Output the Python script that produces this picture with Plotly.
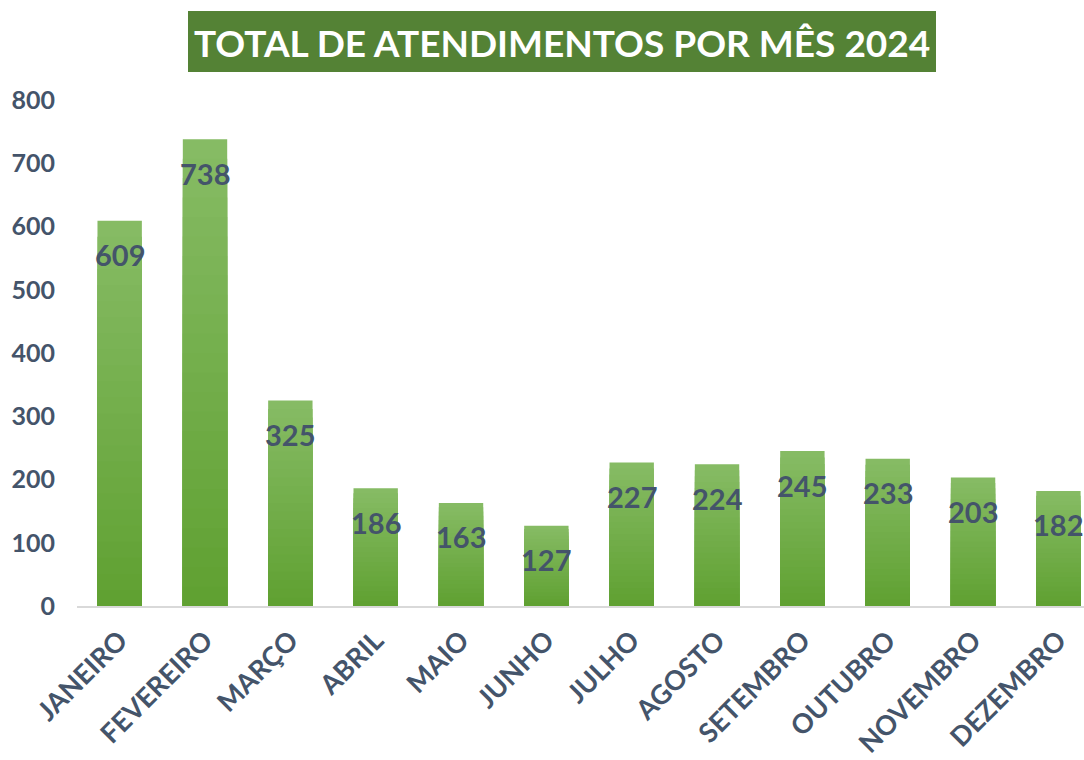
import plotly.graph_objects as go

months = ["JANEIRO", "FEVEREIRO", "MARÇO", "ABRIL", "MAIO", "JUNHO",
          "JULHO", "AGOSTO", "SETEMBRO", "OUTUBRO", "NOVEMBRO", "DEZEMBRO"]
values = [609, 738, 325, 186, 163, 127, 227, 224, 245, 233, 203, 182]
y_ticks = [0, 100, 200, 300, 400, 500, 600, 700, 800]
title_text = "TOTAL DE ATENDIMENTOS POR MÊS 2024"

TXT = "#44546A"
top_rgb = (0x86, 0xBB, 0x64)
bot_rgb = (0x60, 0xA1, 0x32)

fig = go.Figure()
N = 24
for k in range(N):
    frac = 1 - k / N
    t = k / (N - 1)
    c = tuple(int(round(top_rgb[i] + (bot_rgb[i] - top_rgb[i]) * t)) for i in range(3))
    fig.add_trace(go.Bar(
        x=months, y=[v * frac for v in values],
        marker=dict(color="rgb(%d,%d,%d)" % c, line=dict(width=0)),
        hoverinfo="skip", showlegend=False))

for m, v in zip(months, values):
    fig.add_annotation(x=m, y=v, text="<b>%d</b>" % v, showarrow=False,
                       yanchor="middle", yshift=-34,
                       font=dict(family="Lato", size=29, color=TXT))

fig.add_shape(type="rect", xref="paper", yref="paper",
              x0=(188 - 77) / 1007, x1=(936 - 77) / 1007,
              y0=(606 - 72) / 506, y1=(606 - 11) / 506,
              fillcolor="#548235", line=dict(width=0), layer="above")
fig.add_annotation(xref="paper", yref="paper",
                   x=(562 - 77) / 1007, y=(606 - 43) / 506,
                   text="<b>%s</b>" % title_text, showarrow=False,
                   xanchor="center", yanchor="middle",
                   font=dict(family="Lato", size=37, color="white"))

fig.update_layout(
    width=1084, height=760,
    margin=dict(l=77, r=0, t=100, b=154),
    paper_bgcolor="white", plot_bgcolor="white",
    barmode="overlay", bargap=0.48,
    xaxis=dict(range=[-0.5, 11.3], showline=True, linecolor="#D9D9D9", linewidth=2,
               tickangle=-45, showgrid=False, ticks="", ticklabelstandoff=6,
               tickfont=dict(family="Lato", size=27, color=TXT, weight="bold")),
    yaxis=dict(range=[0, 800], tickvals=y_ticks, showgrid=False, zeroline=False,
               ticks="", ticklabelstandoff=21,
               tickfont=dict(family="Lato", size=25, color=TXT, weight="bold")),
)

fig.write_html("out.html")
